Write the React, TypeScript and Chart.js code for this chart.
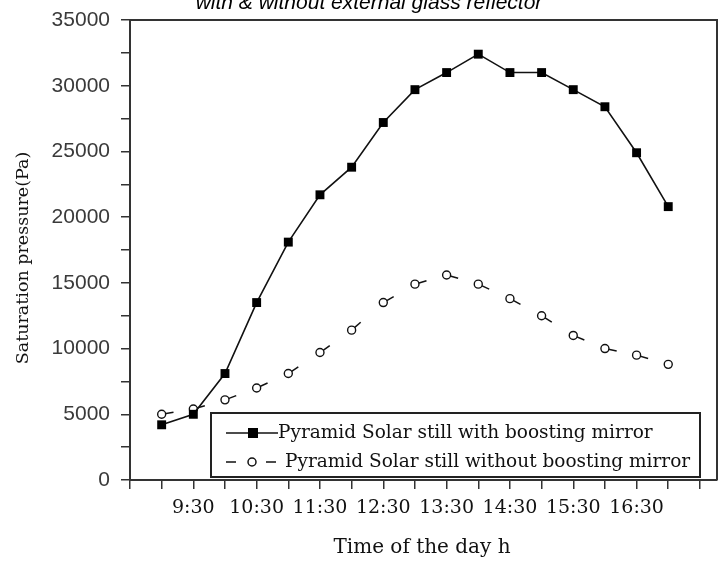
import React, { useEffect, useRef } from 'react';
import { Chart, registerables } from 'chart.js';

Chart.register(...registerables);

const times = ['9:00', '9:30', '10:00', '10:30', '11:00', '11:30', '12:00', '12:30', '13:00', '13:30', '14:00', '14:30', '15:00', '15:30', '16:00', '16:30', '17:00'];
const withMirror = [4200, 5000, 8100, 13500, 18100, 21700, 23800, 27200, 29700, 31000, 32400, 31000, 31000, 29700, 28400, 24900, 20800];
const withoutMirror = [5000, 5400, 6100, 7000, 8100, 9700, 11400, 13500, 14900, 15600, 14900, 13800, 12500, 11000, 10000, 9500, 8800];
const xTickLabels = ['9:30', '10:30', '11:30', '12:30', '13:30', '14:30', '15:30', '16:30'];
const yTickLabels = ['0', '5000', '10000', '15000', '20000', '25000', '30000', '35000'];
const seriesNames = ['Pyramid Solar still with boosting mirror', 'Pyramid Solar still without boosting mirror'];
const chartTitle = 'with & without external glass reflector';
const xTitle = 'Time of the day h';
const yTitle = 'Saturation pressure(Pa)';

const toHours = (t: string) => {
  const [h, m] = t.split(':').map(Number);
  return h + m / 60;
};

const SERIF = '"DejaVu Serif", serif';
const SANS = '"Liberation Sans", Arial, sans-serif';

const decorPlugin = {
  id: 'decor',
  afterDraw(chart: any) {
    const { ctx, chartArea } = chart;
    const { left, top, right, bottom } = chartArea;
    ctx.save();
    // frame top and right
    ctx.strokeStyle = '#333';
    ctx.lineWidth = 2;
    ctx.beginPath();
    ctx.moveTo(left, top);
    ctx.lineTo(right, top);
    ctx.lineTo(right, bottom);
    ctx.stroke();

    // chart title (partially clipped at top)
    ctx.fillStyle = '#000';
    ctx.font = `italic 21px ${SANS}`;
    ctx.textAlign = 'center';
    ctx.textBaseline = 'alphabetic';
    ctx.fillText(chartTitle, 369, 9);

    // axis titles
    ctx.fillStyle = '#111';
    ctx.textBaseline = 'middle';
    ctx.font = `20px ${SERIF}`;
    ctx.fillText(xTitle, 422, 548);
    ctx.font = `17.5px ${SERIF}`;
    ctx.save();
    ctx.translate(23, 258);
    ctx.rotate(-Math.PI / 2);
    ctx.fillText(yTitle, 0, 0);
    ctx.restore();

    // legend
    const bx = 211, by = 413, bw = 489, bh = 64;
    ctx.fillStyle = '#fff';
    ctx.fillRect(bx, by, bw, bh);
    ctx.strokeStyle = '#222';
    ctx.lineWidth = 2;
    ctx.strokeRect(bx, by, bw, bh);

    const rows = [433, 462];
    const ds = chart.data.datasets;
    // row 1: solid line with square
    ctx.strokeStyle = ds[0].borderColor;
    ctx.lineWidth = 1.5;
    ctx.setLineDash([]);
    ctx.beginPath();
    ctx.moveTo(226, rows[0]);
    ctx.lineTo(278, rows[0]);
    ctx.stroke();
    ctx.fillStyle = ds[0].pointBackgroundColor;
    ctx.fillRect(248, rows[0] - 5, 10, 10);
    // row 2: dashes with open circle
    ctx.strokeStyle = ds[1].borderColor;
    ctx.beginPath();
    ctx.moveTo(226, rows[1]);
    ctx.lineTo(236, rows[1]);
    ctx.moveTo(266, rows[1]);
    ctx.lineTo(276, rows[1]);
    ctx.stroke();
    ctx.fillStyle = '#fff';
    ctx.beginPath();
    ctx.arc(252, rows[1], 4, 0, Math.PI * 2);
    ctx.fill();
    ctx.stroke();

    ctx.fillStyle = '#111';
    ctx.font = `18.5px ${SERIF}`;
    ctx.textAlign = 'left';
    ctx.textBaseline = 'middle';
    ctx.fillText(seriesNames[0], 278, rows[0]);
    ctx.fillText(seriesNames[1], 285, rows[1]);
    ctx.restore();
  },
};

export default function App() {
  const ref = useRef<HTMLCanvasElement | null>(null);
  useEffect(() => {
    if (!ref.current) return;
    const xs = times.map(toHours);
    const xLabelMap: Record<string, string> = {};
    xTickLabels.forEach((l) => (xLabelMap[toHours(l).toFixed(2)] = l));
    const chart = new Chart(ref.current, {
      type: 'line',
      data: {
        datasets: [
          {
            label: seriesNames[0],
            data: xs.map((x, i) => ({ x, y: withMirror[i] })),
            borderColor: '#111',
            borderWidth: 1.6,
            pointStyle: 'rect',
            pointRadius: 6.3,
            pointBackgroundColor: '#000',
            pointBorderColor: '#000',
            pointBorderWidth: 0,
            tension: 0,
          },
          {
            label: seriesNames[1],
            data: xs.map((x, i) => ({ x, y: withoutMirror[i] })),
            borderColor: '#111',
            borderWidth: 1.5,
            pointStyle: 'circle',
            pointRadius: 4,
            pointBackgroundColor: '#fff',
            pointBorderColor: '#111',
            pointBorderWidth: 1.4,
            tension: 0,
            segment: {
              borderDash: () => [12, 200],
              borderDashOffset: (c: any) => (c.p0DataIndex % 2 ? 0.001 : 0),
            },
          },
        ],
      },
      options: {
        animation: false,
        responsive: false,
        layout: { autoPadding: false, padding: { top: 20, right: 4, left: 0, bottom: 0 } },
        plugins: {
          legend: { display: false },
          tooltip: { enabled: false },
          title: { display: false },
        },
        scales: {
          x: {
            type: 'linear',
            min: 8.5,
            max: 17.77,
            afterFit: (s: any) => {
              s.height = 82;
              s.paddingRight = 0;
              s.paddingLeft = 0;
            },
            ticks: {
              stepSize: 0.5,
              includeBounds: false,
              autoSkip: false,
              maxRotation: 0,
              padding: 8,
              color: '#111',
              font: { family: SERIF, size: 19 },
              callback: (v: any) => xLabelMap[Number(v).toFixed(2)] ?? '',
            },
            grid: { drawOnChartArea: false, drawTicks: true, tickLength: 9, color: '#333', lineWidth: 1.5 },
            border: { display: true, color: '#333', width: 2 },
          },
          y: {
            type: 'linear',
            min: 0,
            max: 35000,
            afterFit: (s: any) => {
              s.width = 130;
              s.paddingTop = 0;
              s.paddingBottom = 0;
            },
            ticks: {
              stepSize: 2500,
              autoSkip: false,
              padding: 11,
              color: '#3a3a3a',
              font: { family: SANS, size: 21 },
              callback: (v: any) => (yTickLabels.includes(String(v)) ? String(v) : ''),
            },
            grid: { drawOnChartArea: false, drawTicks: true, tickLength: 9, color: '#333', lineWidth: 1.5 },
            border: { display: true, color: '#333', width: 2 },
          },
        },
      },
      plugins: [decorPlugin],
    });
    return () => chart.destroy();
  }, []);
  return (
    <div style={{ position: 'absolute', left: 0, top: 0, width: 721, height: 562, background: '#fff' }}>
      <canvas ref={ref} width={721} height={562} />
    </div>
  );
}
